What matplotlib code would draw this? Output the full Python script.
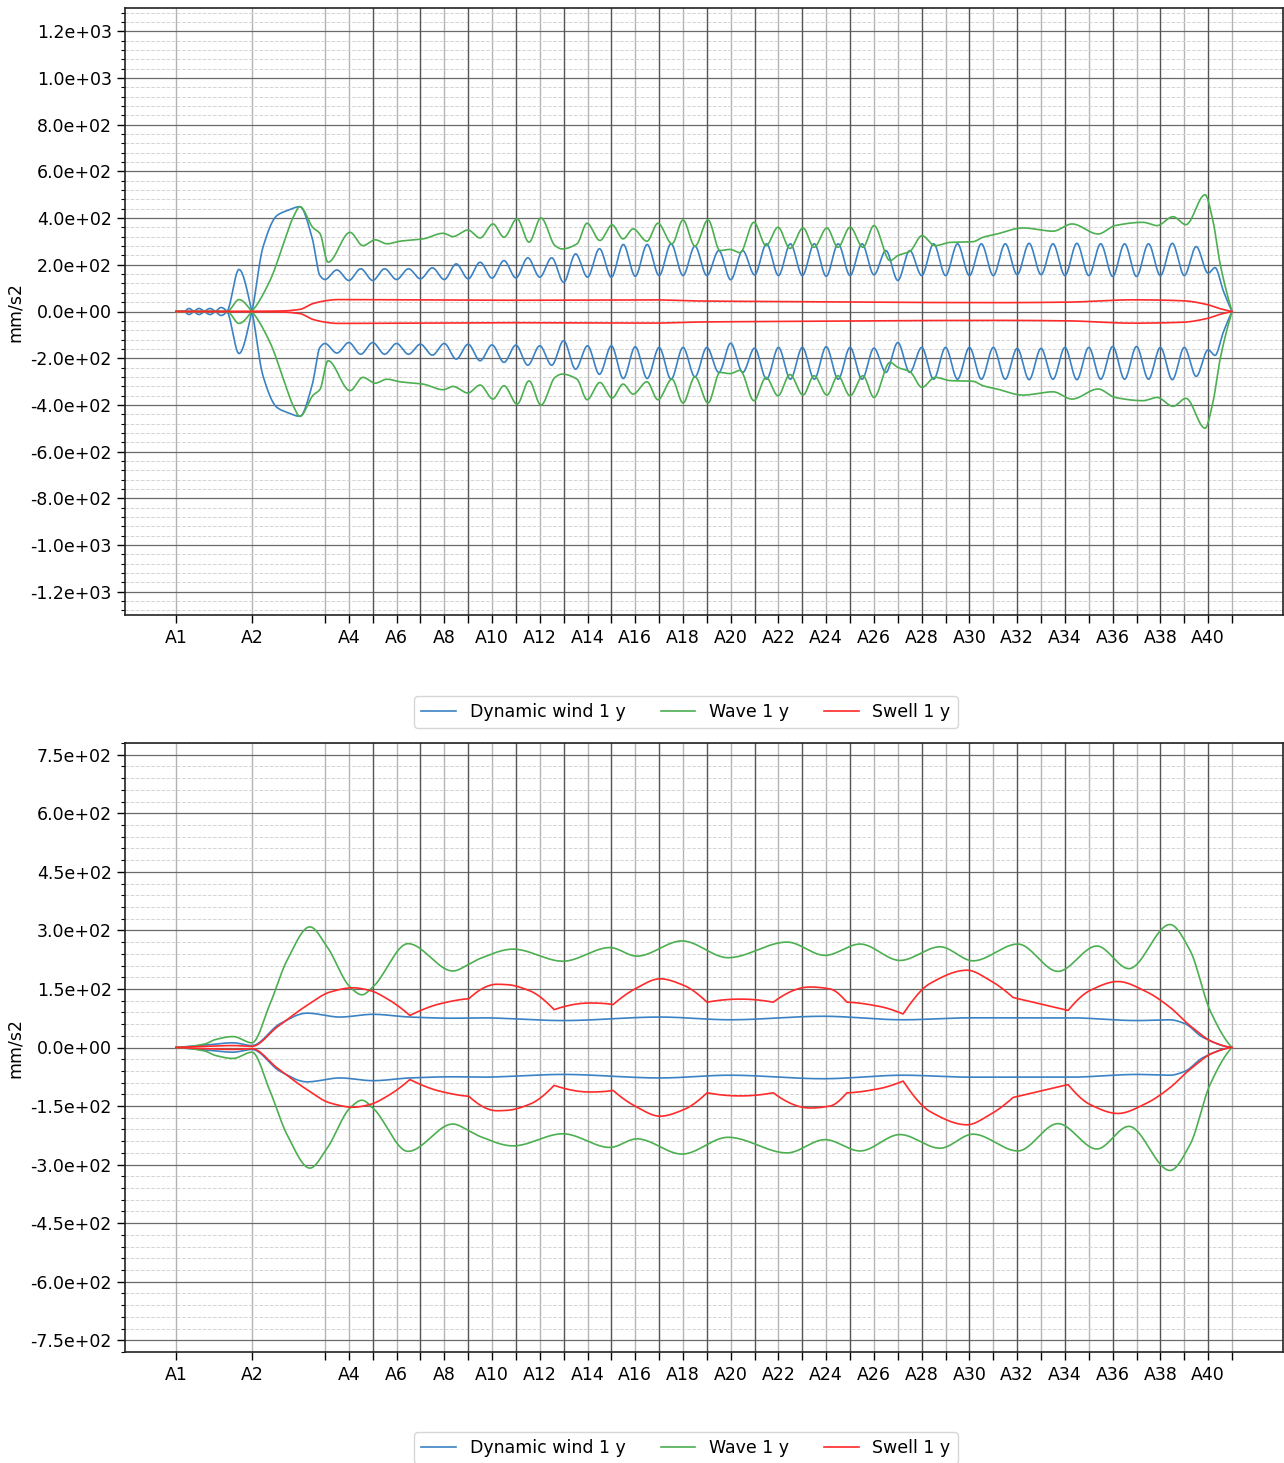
import numpy as np
import matplotlib
matplotlib.use("Agg")
import matplotlib.pyplot as plt
from matplotlib.ticker import FixedLocator, FixedFormatter, MultipleLocator, AutoMinorLocator, FormatStrFormatter

# ---------------------------------------------------------------------------
# Stations along the span (positions in station-spacing units)
# ---------------------------------------------------------------------------
station_names = [f"A{i}" for i in range(1, 42)]
station_pos = [0.0, 3.18] + [6.24 + k for k in range(39)]
labelled = ["A1", "A2"] + [f"A{i}" for i in range(4, 41, 2)]
# stations whose grid line is drawn heavier (section boundaries)
section_marks = ["A5", "A7", "A9", "A11", "A13", "A15", "A17", "A19", "A21", "A23",
                 "A25", "A28", "A30", "A32", "A34", "A36", "A38", "A40"]

series_names = ["Dynamic wind 1 y", "Wave 1 y", "Swell 1 y"]
series_colors = ["#3b82c4", "#4caf50", "#ff2a2a"]

# ---------------------------------------------------------------------------
# Upper panel: acceleration envelopes (mm/s2), drawn as +/- pairs
# ---------------------------------------------------------------------------
# Dynamic wind: start-up region, then trough at each station / crest between
wind_start_x = [0.0, 0.34, 0.54, 0.75, 0.96, 1.19, 1.42, 1.65, 1.89, 2.14, 2.64, 3.18,
                3.64, 4.23, 4.65, 5.19, 5.70, 6.03]
wind_start_y = [0, 0, -13, 0, 13, 0, -13, 0, 17, 0, -180, 0,
                274, 411, 432, 449, 317, 154]
wind_troughs = [137, 133, 133, 137, 140, 137, 140, 143, 144, 147, 125, 147, 147, 151,
                154, 154, 154, 136, 157, 154, 154, 151, 154, 157, 133, 154, 154, 154,
                154, 158, 158, 154, 154, 150, 150, 154, 154, 164]          # A3..A40
wind_crests = [178, 183, 183, 183, 187, 204, 211, 218, 230, 230, 247, 269, 287, 287,
               290, 280, 261, 261, 290, 290, 290, 290, 290, 261, 261, 290, 290, 290,
               290, 292, 290, 292, 290, 290, 290, 292, 278]                 # A3.5..A39.5
wind_end_x = [43.53, 43.87, 44.24]
wind_end_y = [188, 90, 0]

wave_x = [0.0, 2.14, 2.64, 3.18, 3.94, 4.65, 4.90, 5.19, 5.74, 6.03, 6.37, 7.29, 7.83,
          8.34, 8.84, 9.38, 10.35, 11.19, 11.60, 12.23, 12.74, 13.28, 13.74, 14.29,
          14.79, 15.29, 15.88, 16.17, 16.80, 17.22, 17.76, 18.27, 18.73, 19.15, 19.73,
          20.19, 20.78, 21.24, 21.74, 22.29, 22.79, 23.21, 23.63, 24.21, 24.72, 25.22,
          25.72, 26.27, 26.73, 27.27, 27.73, 28.24, 28.78, 29.24, 29.91, 30.25, 30.75,
          31.25, 31.80, 32.43, 33.39, 33.81, 34.39, 35.48, 36.74, 37.54, 38.63, 39.34,
          40.51, 41.10, 41.77, 42.31, 43.11, 43.44, 43.74, 44.03, 44.24]
wave_y = [0, 0, -51, 0, 133, 334, 402, 449, 359, 334, 211, 339, 282,
          307, 290, 301, 311, 335, 321, 349, 315, 375, 318, 397,
          297, 401, 282, 268, 290, 378, 304, 371, 311, 354, 301,
          378, 290, 392, 280, 392, 261, 266, 252, 382, 282, 361,
          270, 358, 275, 358, 275, 361, 275, 368, 218, 240, 258,
          325, 282, 296, 299, 318, 332, 358, 344, 375, 332, 368,
          382, 368, 406, 372, 500, 389, 205, 77, 0]

swell_x = [0.0, 4.36, 5.19, 5.74, 6.33, 6.74, 9.38, 13.57, 16.09, 19.86, 21.95, 26.14,
           30.33, 34.52, 37.33, 40.09, 42.19, 43.19, 43.74, 44.24]
swell_y = [0, 2, 9, 34, 47, 51, 50, 48, 49, 50, 45, 42,
           39, 38, 40, 50, 46, 30, 12, 0]

# ---------------------------------------------------------------------------
# Lower panel envelopes (mm/s2)
# ---------------------------------------------------------------------------
wind2_x = [0.0, 1.21, 2.39, 3.18, 4.36, 5.49, 6.87, 8.25, 9.80, 11.60, 12.74, 16.21,
           20.28, 23.21, 27.11, 30.46, 33.26, 37.45, 40.26, 41.64, 42.27, 43.02, 44.24]
wind2_y = [0, 6, 12, 5, 61, 88, 78, 85, 78, 75, 76, 69,
           78, 71, 80, 71, 76, 76, 69, 71, 61, 26, 0]

wave2_x = [0.0, 1.21, 1.63, 2.39, 3.18, 3.94, 4.65, 5.61, 6.33, 7.29, 7.79, 8.25, 9.72,
           11.60, 12.32, 12.74, 14.12, 16.21, 18.18, 19.31, 21.20, 23.13, 25.60, 27.19,
           28.66, 30.33, 32.01, 33.39, 35.27, 36.95, 38.58, 39.92, 41.64, 42.48, 43.32,
           44.24]
wave2_y = [0, 9, 20, 28, 12, 112, 223, 309, 258, 155, 135, 155, 266,
           196, 215, 228, 252, 221, 256, 234, 273, 230, 270, 236,
           265, 223, 258, 222, 265, 195, 260, 202, 315, 249, 95,
           0]

swell2_x = [0.0, 1.21, 2.39, 3.18, 4.23, 5.49, 6.45, 7.42, 8.13, 8.84, 9.80, 11.06,
            12.27, 13.45, 13.87, 14.83, 15.84, 17.34, 18.31, 19.23, 20.28, 21.24,
            22.25, 23.63, 25.02, 26.56, 27.40, 28.11, 29.49, 30.46, 31.59, 33.14,
            34.10, 35.07, 37.37, 38.29, 39.46, 40.68, 41.64, 42.48, 43.44, 44.24]
swell2_y = [0, 3, 5, 3, 52, 108, 142, 153, 146, 125, 82, 112,
            125, 162, 161, 145, 97, 114, 110, 150, 176, 160,
            116, 124, 116, 155, 150, 116, 105, 86, 164, 198,
            172, 128, 95, 146, 169, 142, 103, 56, 14, 0]
swell2_kinks = [9.80, 12.27, 15.84, 18.31, 22.25, 25.02, 28.11, 30.46, 35.07, 37.37]


def _edge_slope(h0, h1, m0, m1):
    d = ((2 * h0 + h1) * m0 - h0 * m1) / (h0 + h1)
    if np.sign(d) != np.sign(m0):
        d = 0.0
    elif np.sign(m0) != np.sign(m1) and abs(d) > abs(3 * m0):
        d = 3 * m0
    return d


def pchip(x, y, xs):
    x = np.asarray(x, float)
    y = np.asarray(y, float)
    h = np.diff(x)
    d = np.diff(y) / h
    n = len(x)
    m = np.zeros(n)
    if n == 2:
        m[:] = d[0]
    else:
        for k in range(1, n - 1):
            if d[k - 1] * d[k] > 0:
                w1 = 2 * h[k] + h[k - 1]
                w2 = h[k] + 2 * h[k - 1]
                m[k] = (w1 + w2) / (w1 / d[k - 1] + w2 / d[k])
        m[0] = _edge_slope(h[0], h[1], d[0], d[1])
        m[-1] = _edge_slope(h[-1], h[-2], d[-1], d[-2])
    i = np.clip(np.searchsorted(x, xs, side="right") - 1, 0, n - 2)
    t = (xs - x[i]) / h[i]
    h00 = 2 * t**3 - 3 * t**2 + 1
    h10 = t**3 - 2 * t**2 + t
    h01 = -2 * t**3 + 3 * t**2
    h11 = t**3 - t**2
    return h00 * y[i] + h10 * h[i] * m[i] + h01 * y[i + 1] + h11 * h[i] * m[i + 1]


def smooth(x, y, kinks=()):
    x = np.asarray(x, float)
    y = np.asarray(y, float)
    cuts = [0] + [int(np.argmin(np.abs(x - k))) for k in kinks] + [len(x) - 1]
    xs_all, ys_all = [], []
    for a, b in zip(cuts[:-1], cuts[1:]):
        xx, yy = x[a:b + 1], y[a:b + 1]
        xs = np.linspace(xx[0], xx[-1], max(2, int((xx[-1] - xx[0]) * 60)))
        xs_all.append(xs)
        ys_all.append(pchip(xx, yy, xs))
    return np.concatenate(xs_all), np.concatenate(ys_all)


# assemble the dynamic-wind trace of the upper panel
osc_x, osc_y = [], []
for k, tr in enumerate(wind_troughs):
    osc_x.append(station_pos[2 + k])
    osc_y.append(tr)
    if k < len(wind_crests):
        osc_x.append(station_pos[2 + k] + 0.5)
        osc_y.append(wind_crests[k])
wind_x = wind_start_x + osc_x + wind_end_x
wind_y = wind_start_y + osc_y + wind_end_y

panels = [
    dict(curves=[(wind_x, wind_y, ()), (wave_x, wave_y, ()), (swell_x, swell_y, ())],
         ylim=1300, major=200, rect=[125, 8, 1283, 615], legend_y=712),
    dict(curves=[(wind2_x, wind2_y, ()), (wave2_x, wave2_y, ()),
                 (swell2_x, swell2_y, swell2_kinks)],
         ylim=780, major=150, rect=[125, 743, 1283, 1352], legend_y=1448),
]

W, H = 1284, 1463
plt.rcParams["font.family"] = ["DejaVu Sans"]
fig = plt.figure(figsize=(W / 100, H / 100), dpi=100)

px0, px1 = 125, 1283
u_per_px = 1 / 23.87
xlim = ((px0 - 176) * u_per_px, (px1 - 176) * u_per_px)
heavy_pos = [station_pos[station_names.index(n)] for n in section_marks]

for p in panels:
    l, t, r, b = p["rect"]
    ax = fig.add_axes([l / W, 1 - b / H, (r - l) / W, (b - t) / H])
    ax.set_axisbelow(True)
    handles = []
    for (cx, cy, kinks), name, col in zip(p["curves"], series_names, series_colors):
        xs, ys = smooth(cx, cy, kinks)
        hl, = ax.plot(xs, ys, color=col, lw=1.2, label=name, zorder=3)
        ax.plot(xs, -ys, color=col, lw=1.2, zorder=3)
        handles.append(hl)

    ax.set_xlim(*xlim)
    ax.set_ylim(-p["ylim"], p["ylim"])

    # x axis: tick at every station, labels on a subset
    ax.xaxis.set_major_locator(FixedLocator(station_pos))
    ax.xaxis.set_major_formatter(
        FixedFormatter([n if n in labelled else "" for n in station_names]))
    ax.tick_params(axis="x", length=6, width=1, labelsize=12.5, pad=4)
    ax.grid(axis="x", which="major", color="#b4b4b4", lw=1.0)
    for xp in heavy_pos:
        ax.axvline(xp, color="#555555", lw=0.9, zorder=1)

    # y axis
    ax.yaxis.set_major_locator(MultipleLocator(p["major"]))
    ax.yaxis.set_minor_locator(AutoMinorLocator(5))
    ax.yaxis.set_major_formatter(FormatStrFormatter("%.1e"))
    ax.tick_params(axis="y", which="major", length=6, width=1, labelsize=12.5)
    ax.tick_params(axis="y", which="minor", length=3, width=0.8)
    ax.grid(axis="y", which="major", color="#6a6a6a", lw=0.9)
    ax.grid(axis="y", which="minor", color="#d4d4d4", lw=0.7, ls="--")
    ax.set_ylabel("mm/s2", fontsize=12.5)
    ax.yaxis.set_label_coords(-0.087, 0.5)

    for s in ax.spines.values():
        s.set_color("#222222")
        s.set_linewidth(1.2)

    fig.legend(handles=handles, loc="center", ncol=3, fontsize=12.5,
               bbox_to_anchor=(686 / W, 1 - p["legend_y"] / H),
               frameon=True, fancybox=True, edgecolor="#cccccc",
               handlelength=2.0, columnspacing=2.0)

fig.savefig("out.png", dpi=100)
